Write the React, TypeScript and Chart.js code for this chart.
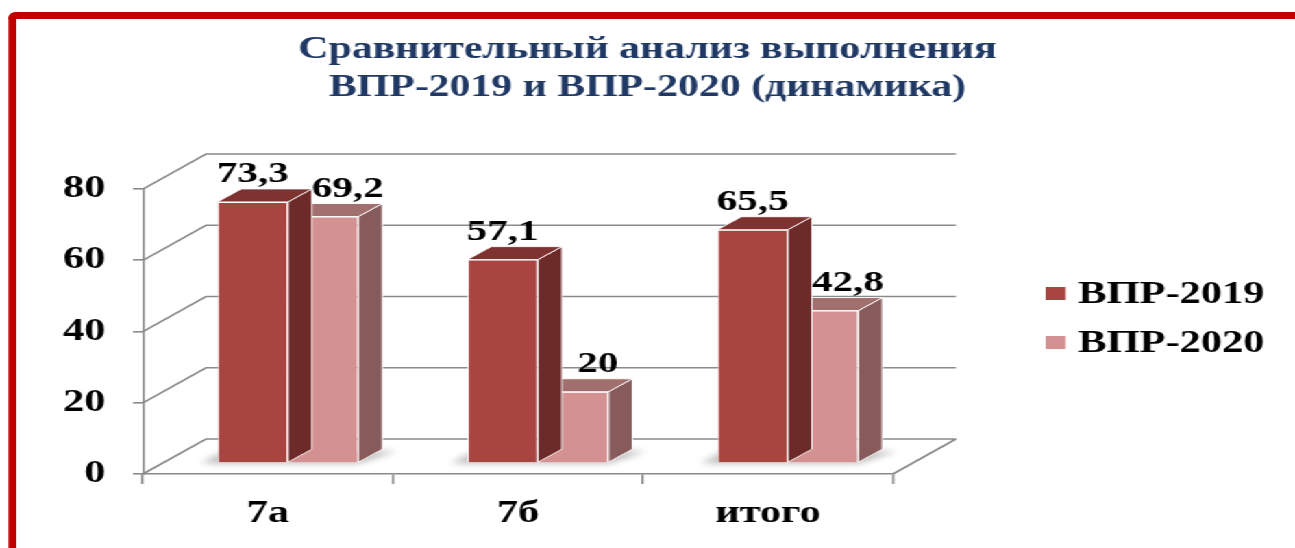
import React, { useEffect, useRef } from 'react';
import { Chart, registerables } from 'chart.js';

Chart.register(...registerables);

// ---- data ----
const categories = ['7а', '7б', 'итого'];
const vpr2019 = [73.3, 57.1, 65.5];
const vpr2020 = [69.2, 20, 42.8];
const seriesLabels = ['ВПР-2019', 'ВПР-2020'];
const yMin = 0;
const yMax = 80;
const yStep = 20;
const titleLines = ['Сравнительный анализ выполнения', 'ВПР-2019 и ВПР-2020 (динамика)'];

// ---- look ----
const W = 945;
const H = 548;
const STRETCH = 1295 / W;
const FONT = '"Liberation Serif", "Times New Roman", serif';
const GRID = '#8a8a8a';
const WALL = { dx: 46, dy: -35 };
const BAR_SHIFT = { dx: 14.6, dy: -11 };
const BAR_DEPTH = { dx: 17.5, dy: -13 };
const faceColors = [
  { front: '#A84541', top: '#7F3331', side: '#6C2A29' },
  { front: '#D39191', top: '#A26F6F', side: '#875B5B' },
];
const LABEL_SHIFT = [0, 18];

const box3d = {
  id: 'box3d',
  beforeDatasetsDraw(chart: any) {
    const { ctx, chartArea, scales } = chart;
    const y = scales.y;
    const { left, right } = chartArea;
    ctx.save();
    ctx.strokeStyle = GRID;
    ctx.lineWidth = 1.6;
    y.ticks.forEach((t: any) => {
      const py = y.getPixelForValue(t.value);
      ctx.beginPath();
      ctx.moveTo(left, py);
      ctx.lineTo(left + WALL.dx, py + WALL.dy);
      ctx.lineTo(right + WALL.dx, py + WALL.dy);
      if (t.value === yMin) {
        ctx.moveTo(right, py);
        ctx.lineTo(right + WALL.dx, py + WALL.dy);
      }
      ctx.stroke();
    });
    // soft floor shadows under bar groups
    const m0 = chart.getDatasetMeta(0);
    const m1 = chart.getDatasetMeta(chart.data.datasets.length - 1);
    ctx.filter = 'blur(3px)';
    ctx.fillStyle = 'rgba(0,0,0,0.28)';
    m0.data.forEach((el: any, i: number) => {
      const a = el.getProps(['x', 'width', 'base'], true);
      const b = m1.data[i].getProps(['x', 'width', 'base'], true);
      const gl = a.x - a.width / 2 + BAR_SHIFT.dx;
      const gr = b.x + b.width / 2 + BAR_SHIFT.dx;
      const base = a.base + BAR_SHIFT.dy;
      ctx.beginPath();
      ctx.moveTo(gl - 12, base + 1);
      ctx.lineTo(gr, base + 1);
      ctx.lineTo(gr + BAR_DEPTH.dx + 10, base + BAR_DEPTH.dy + 2);
      ctx.lineTo(gl + BAR_DEPTH.dx - 12, base + BAR_DEPTH.dy + 2);
      ctx.closePath();
      ctx.fill();
    });
    ctx.restore();
    ctx.save();
    ctx.translate(BAR_SHIFT.dx, BAR_SHIFT.dy);
  },
  afterDatasetDraw(chart: any, args: any) {
    const { ctx } = chart;
    const c = faceColors[args.index];
    ctx.save();
    ctx.strokeStyle = 'rgba(255,255,255,0.9)';
    ctx.lineWidth = 1;
    ctx.lineJoin = 'round';
    args.meta.data.forEach((el: any) => {
      const { x, y, base, width } = el.getProps(['x', 'y', 'base', 'width'], true);
      const l = x - width / 2;
      const r = x + width / 2;
      // side
      ctx.beginPath();
      ctx.moveTo(r, y);
      ctx.lineTo(r + BAR_DEPTH.dx, y + BAR_DEPTH.dy);
      ctx.lineTo(r + BAR_DEPTH.dx, base + BAR_DEPTH.dy);
      ctx.lineTo(r, base);
      ctx.closePath();
      ctx.fillStyle = c.side;
      ctx.fill();
      ctx.stroke();
      // top
      ctx.beginPath();
      ctx.moveTo(l, y);
      ctx.lineTo(l + BAR_DEPTH.dx, y + BAR_DEPTH.dy);
      ctx.lineTo(r + BAR_DEPTH.dx, y + BAR_DEPTH.dy);
      ctx.lineTo(r, y);
      ctx.closePath();
      ctx.fillStyle = c.top;
      ctx.fill();
      ctx.stroke();
    });
    ctx.restore();
  },
  afterDatasetsDraw(chart: any) {
    const { ctx } = chart;
    ctx.restore();
    ctx.save();
    ctx.font = `bold 30px ${FONT}`;
    ctx.fillStyle = '#000';
    ctx.textAlign = 'center';
    ctx.textBaseline = 'alphabetic';
    chart.data.datasets.forEach((ds: any, i: number) => {
      const meta = chart.getDatasetMeta(i);
      meta.data.forEach((el: any, j: number) => {
        const { x, y } = el.getProps(['x', 'y'], true);
        const txt = String(ds.data[j]).replace('.', ',');
        ctx.fillText(txt, x + BAR_SHIFT.dx + LABEL_SHIFT[i], y + BAR_SHIFT.dy + BAR_DEPTH.dy - 7);
      });
    });
    ctx.restore();
  },
  afterDraw(chart: any) {
    const { ctx } = chart;
    ctx.save();
    ctx.font = `bold 31px ${FONT}`;
    ctx.textAlign = 'left';
    ctx.textBaseline = 'middle';
    chart.data.datasets.forEach((ds: any, i: number) => {
      const cy = 293.5 + i * 49;
      ctx.fillStyle = ds.backgroundColor;
      ctx.fillRect(763, cy - 6.5, 14.6, 13);
      ctx.fillStyle = '#000';
      ctx.fillText(ds.label, 786.8, cy + 1);
    });
    ctx.restore();
  },
};

export default function App() {
  const ref = useRef<HTMLCanvasElement>(null);
  useEffect(() => {
    const tickFont = { family: FONT, size: 31, weight: 'bold' as const };
    const chart = new Chart(ref.current as HTMLCanvasElement, {
      type: 'bar',
      data: {
        labels: categories,
        datasets: [
          { label: seriesLabels[0], data: vpr2019, backgroundColor: faceColors[0].front, borderColor: '#ffffff', borderWidth: 1, clip: false as any },
          { label: seriesLabels[1], data: vpr2020, backgroundColor: faceColors[1].front, borderColor: '#ffffff', borderWidth: 1, clip: false as any },
        ],
      },
      options: {
        responsive: false,
        maintainAspectRatio: false,
        animation: false,
        layout: { padding: 0 },
        datasets: { bar: { categoryPercentage: 0.564, barPercentage: 1 } },
        plugins: {
          legend: { display: false },
          tooltip: { enabled: false },
          title: {
            display: true,
            text: titleLines,
            color: '#1F3864',
            font: { family: FONT, size: 30.5, weight: 'bold', lineHeight: 1.25 },
            padding: { top: 31, bottom: 81.8 },
          },
        },
        scales: {
          x: {
            grid: { display: true, drawOnChartArea: false, drawTicks: true, tickLength: 10, color: GRID, lineWidth: 1.6 },
            border: { display: true, color: GRID, width: 1.6 },
            ticks: { font: tickFont, color: '#000', padding: 11 },
            afterFit: (s: any) => { s.height = 74; },
          },
          y: {
            min: yMin,
            max: yMax,
            ticks: { stepSize: yStep, font: tickFont, color: '#000', padding: 20 },
            grid: { display: true, drawOnChartArea: false, drawTicks: true, tickLength: 7.3, color: GRID, lineWidth: 1.6 },
            border: { display: true, color: GRID, width: 1.6 },
            afterFit: (s: any) => { s.width = 104.3; },
          },
          yLegendSpace: {
            position: 'right',
            display: true,
            min: yMin,
            max: yMax,
            grid: { display: false },
            border: { display: false },
            ticks: { display: false },
            afterFit: (s: any) => { s.width = 293.4; },
          },
        },
      },
      plugins: [box3d],
    });
    return () => chart.destroy();
  }, []);

  return (
    <div
      style={{
        position: 'fixed',
        left: 0,
        top: 0,
        width: W,
        height: H,
        overflow: 'hidden',
        background: '#ffffff',
        transform: `scaleX(${STRETCH})`,
        transformOrigin: '0 0',
      }}
    >
      <div
        style={{
          position: 'absolute',
          left: 6,
          top: 12,
          width: W + 20,
          height: H + 20,
          borderTop: '7px solid #C00000',
          borderLeft: '6px solid #C00000',
          borderTopLeftRadius: 6,
          boxSizing: 'border-box',
          pointerEvents: 'none',
        }}
      />
      <canvas ref={ref} width={W} height={H} style={{ position: 'absolute', left: 0, top: 0, width: W, height: H }} />
    </div>
  );
}
